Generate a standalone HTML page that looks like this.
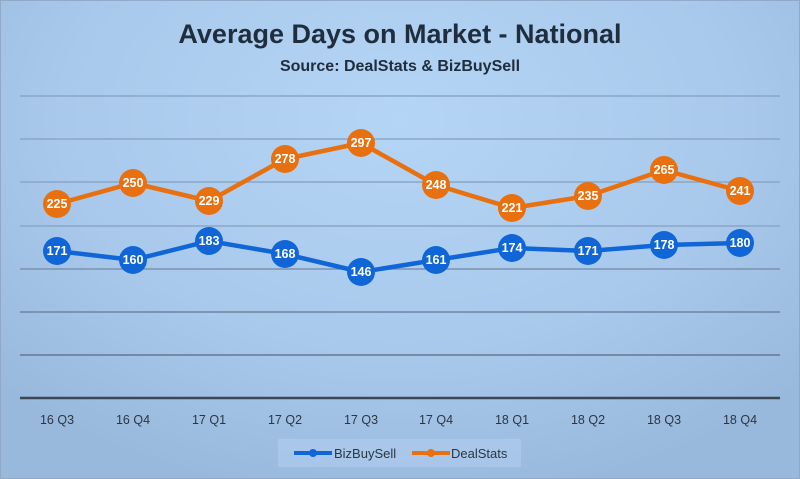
<!DOCTYPE html>
<html><head><meta charset="utf-8"><style>
html,body{margin:0;padding:0;width:800px;height:479px;overflow:hidden}
body{background:radial-gradient(ellipse 70% 80% at 50% 25%,#b5d5f6 0%,#a9c9ec 60%,#98b8dc 100%);font-family:"Liberation Sans",sans-serif}
</style></head><body>
<svg width="800" height="479" xmlns="http://www.w3.org/2000/svg" style="position:absolute;left:0;top:0">
<rect x="0.5" y="0.5" width="799" height="478" fill="none" stroke="#8fa9c8"/>
<text x="400" y="43" text-anchor="middle" font-size="27" font-weight="bold" fill="#1f2d3d">Average Days on Market - National</text>
<text x="400" y="71" text-anchor="middle" font-size="16" font-weight="bold" fill="#1f2d3d">Source: DealStats &amp; BizBuySell</text>
<g stroke="#8aa6c6" stroke-width="1.5">
<line x1="20" x2="780" y1="96" y2="96"/><line x1="20" x2="780" y1="139" y2="139"/>
<line x1="20" x2="780" y1="182" y2="182"/><line x1="20" x2="780" y1="226" y2="226"/>
<line x1="20" x2="780" y1="269" y2="269" stroke="#7b92ae"/><line x1="20" x2="780" y1="312" y2="312" stroke="#6f84a0"/>
<line x1="20" x2="780" y1="355" y2="355" stroke="#647891"/>
</g>
<line x1="20" x2="780" y1="398" y2="398" stroke="#3c4654" stroke-width="2.5"/>
<g font-size="12.5" fill="#2a3644" text-anchor="middle">
<text x="57" y="424">16 Q3</text><text x="133" y="424">16 Q4</text><text x="209" y="424">17 Q1</text><text x="285" y="424">17 Q2</text><text x="361" y="424">17 Q3</text><text x="436" y="424">17 Q4</text><text x="512" y="424">18 Q1</text><text x="588" y="424">18 Q2</text><text x="664" y="424">18 Q3</text><text x="740" y="424">18 Q4</text>
</g>
<polyline fill="none" stroke="#e8700f" stroke-width="4.5" stroke-linejoin="round" points="57,204 133,183 209,201 285,159 361,143 436,185 512,208 588,196 664,170 740,191"/>
<polyline fill="none" stroke="#1066d6" stroke-width="4.5" stroke-linejoin="round" points="57,251 133,260 209,241 285,254 361,272 436,260 512,248 588,251 664,245 740,243"/>
<g fill="#e8700f"><circle cx="57" cy="204" r="14"/><circle cx="133" cy="183" r="14"/><circle cx="209" cy="201" r="14"/><circle cx="285" cy="159" r="14"/><circle cx="361" cy="143" r="14"/><circle cx="436" cy="185" r="14"/><circle cx="512" cy="208" r="14"/><circle cx="588" cy="196" r="14"/><circle cx="664" cy="170" r="14"/><circle cx="740" cy="191" r="14"/></g>
<g fill="#1066d6"><circle cx="57" cy="251" r="14"/><circle cx="133" cy="260" r="14"/><circle cx="209" cy="241" r="14"/><circle cx="285" cy="254" r="14"/><circle cx="361" cy="272" r="14"/><circle cx="436" cy="260" r="14"/><circle cx="512" cy="248" r="14"/><circle cx="588" cy="251" r="14"/><circle cx="664" cy="245" r="14"/><circle cx="740" cy="243" r="14"/></g>
<g font-size="12.5" font-weight="bold" fill="#fff" text-anchor="middle">
<text x="57" y="208">225</text><text x="133" y="187">250</text><text x="209" y="205">229</text><text x="285" y="163">278</text><text x="361" y="147">297</text><text x="436" y="189">248</text><text x="512" y="212">221</text><text x="588" y="200">235</text><text x="664" y="174">265</text><text x="740" y="195">241</text>
<text x="57" y="255">171</text><text x="133" y="264">160</text><text x="209" y="245">183</text><text x="285" y="258">168</text><text x="361" y="276">146</text><text x="436" y="264">161</text><text x="512" y="252">174</text><text x="588" y="255">171</text><text x="664" y="249">178</text><text x="740" y="247">180</text>
</g>
<rect x="278" y="439" width="243" height="28" fill="#b0cdef" opacity="0.6"/>
<line x1="294" x2="332" y1="453" y2="453" stroke="#1066d6" stroke-width="4"/><circle cx="313" cy="453" r="4" fill="#1066d6"/>
<text x="334" y="458" font-size="13" fill="#2a3644">BizBuySell</text>
<line x1="412" x2="450" y1="453" y2="453" stroke="#e8700f" stroke-width="4"/><circle cx="431" cy="453" r="4" fill="#e8700f"/>
<text x="451" y="458" font-size="13" fill="#2a3644">DealStats</text>
</svg>
</body></html>
